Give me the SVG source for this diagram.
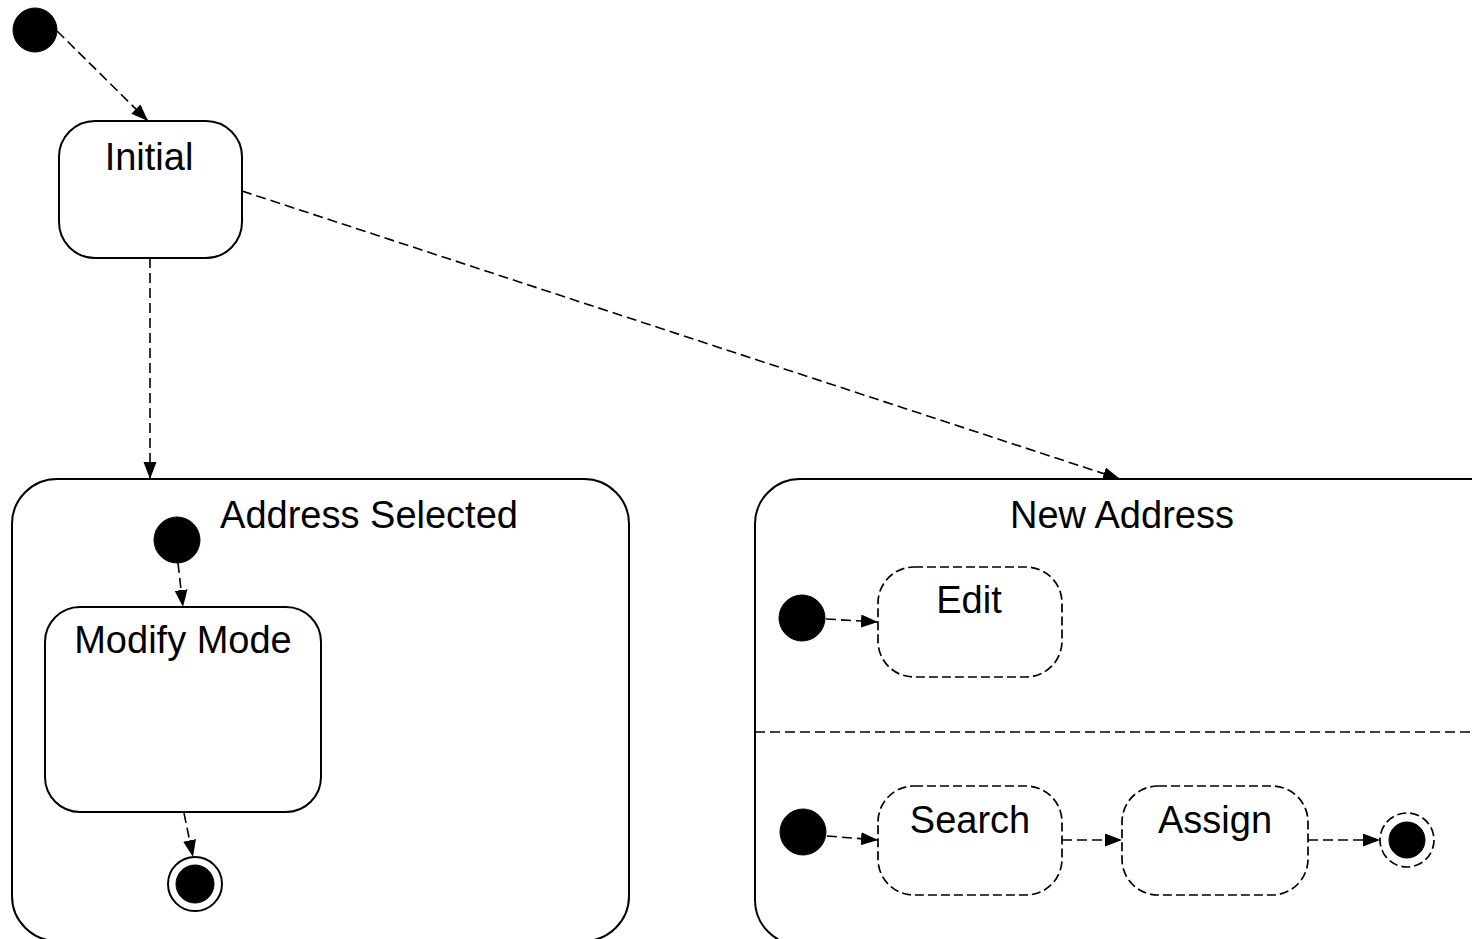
<svg xmlns="http://www.w3.org/2000/svg" width="1472" height="939" viewBox="0 0 1472 939">
<style>
.box{fill:#fff;stroke:#000;stroke-width:2}
.dbox{fill:#fff;stroke:#000;stroke-width:1.7;stroke-dasharray:9,4}
.dot{fill:#000;stroke:#000;stroke-width:1}
.conn{fill:none;stroke:#000;stroke-width:1.6;stroke-dasharray:10,5;marker-end:url(#arr)}
.lbl{font-family:"Liberation Sans",Arial,sans-serif;font-size:38px;fill:#000;text-anchor:middle}
</style>
<defs>
<marker id="arr" markerUnits="userSpaceOnUse" markerWidth="18" markerHeight="14" refX="17" refY="6.5" orient="auto">
<path d="M0,0 L17,6.5 L0,13 z" fill="#000"/>
</marker>
</defs>
<rect width="1472" height="939" fill="#fff"/>
<g id="address-selected">
<rect class="box" x="12" y="479" width="617" height="462" rx="45" ry="45"/>
<text class="lbl" x="369" y="528">Address Selected</text>
</g>
<g id="new-address">
<rect class="box" x="755" y="479" width="800" height="466" rx="45" ry="45"/>
<text class="lbl" x="1122" y="528">New Address</text>
<line x1="755" y1="732" x2="1472" y2="732" stroke="#000" stroke-width="1.6" stroke-dasharray="10,5"/>
</g>
<g id="start">
<circle class="dot" cx="35" cy="30" r="22"/>
</g>
<g id="initial">
<rect class="box" x="59" y="121" width="183" height="137" rx="36" ry="36"/>
<text class="lbl" x="149" y="170">Initial</text>
</g>
<g id="as-start">
<circle class="dot" cx="177" cy="540" r="23"/>
</g>
<g id="modify-mode">
<rect class="box" x="45" y="607" width="276" height="205" rx="35" ry="35"/>
<text class="lbl" x="183" y="653">Modify Mode</text>
</g>
<g id="as-final">
<circle cx="195" cy="884" r="27" fill="#fff" stroke="#000" stroke-width="2"/>
<circle class="dot" cx="195" cy="884" r="19"/>
</g>
<g id="edit-start">
<circle class="dot" cx="802" cy="618" r="23"/>
</g>
<g id="edit">
<rect class="dbox" x="878" y="567" width="184" height="110" rx="36" ry="36"/>
<text class="lbl" x="969" y="613">Edit</text>
</g>
<g id="search-start">
<circle class="dot" cx="803" cy="832" r="23"/>
</g>
<g id="search">
<rect class="dbox" x="878" y="786" width="184" height="109" rx="36" ry="36"/>
<text class="lbl" x="970" y="833">Search</text>
</g>
<g id="assign">
<rect class="dbox" x="1122" y="786" width="186" height="109" rx="36" ry="36"/>
<text class="lbl" x="1215" y="833">Assign</text>
</g>
<g id="na-final">
<circle class="dbox" cx="1407" cy="840" r="27"/>
<circle class="dot" cx="1407" cy="840" r="18"/>
</g>
<g id="connectors">
<line class="conn" x1="57" y1="31" x2="148" y2="121"/>
<line class="conn" x1="150" y1="258" x2="150" y2="479"/>
<line class="conn" x1="242" y1="191" x2="1120" y2="479"/>
<line class="conn" x1="178" y1="563" x2="183" y2="607"/>
<line class="conn" x1="184" y1="813" x2="193" y2="857"/>
<line class="conn" x1="826" y1="619" x2="878" y2="622"/>
<line class="conn" x1="827" y1="836" x2="878" y2="840"/>
<line class="conn" x1="1062" y1="840" x2="1122" y2="840"/>
<line class="conn" x1="1308" y1="840" x2="1380" y2="840"/>
</g>
</svg>
